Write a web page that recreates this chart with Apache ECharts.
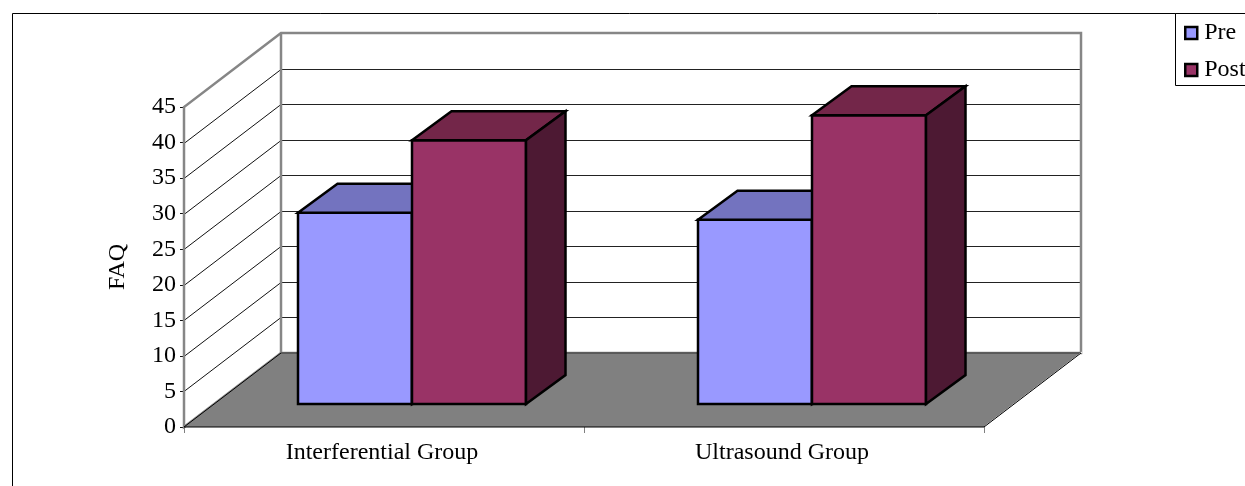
<!DOCTYPE html>
<html>
<head>
<meta charset="utf-8">
<style>html,body{margin:0;padding:0;background:#fff}#chart{width:1245px;height:486px}</style>
<script src="https://cdn.jsdelivr.net/npm/echarts@6/dist/echarts.min.js"></script>
</head>
<body>
<div id="chart"></div>
<script>
var categories = ['Interferential Group', 'Ultrasound Group'];
var preValues = [26.9, 25.9];
var postValues = [37.1, 40.6];
var yTicks = [0, 5, 10, 15, 20, 25, 30, 35, 40, 45];

// oblique offsets of the fake 3d box, in px
var wallDX = 97, wallDY = 74;
var barShiftX = 28, barShiftY = 23;
var barDepthX = 39.5, barDepthY = 29;
var barWidth = 114;
var fontName = 'Liberation Serif';

var myChart = echarts.init(document.getElementById('chart'));

function poly(points, fill, stroke, width) {
    return {type: 'polygon', shape: {points: points},
        style: {fill: fill, stroke: stroke, lineWidth: width, lineJoin: 'miter'}};
}
function line(a, b, stroke, width) {
    return {type: 'line', shape: {x1: a[0], y1: a[1], x2: b[0], y2: b[1]},
        style: {stroke: stroke, lineWidth: width}};
}

// side wall, back wall and floor
function renderWalls(params, api) {
    var a = api.coord([0, 0]), t = api.coord([0, 45]);
    var left = params.coordSys.x, right = left + params.coordSys.width;
    var y0 = a[1], y1 = t[1];
    var back = function (x, y) { return [x + wallDX, y - wallDY]; };
    var kids = [];
    kids.push(poly([[left, y0], back(left, y0), back(left, y1), [left, y1]], '#fff', null, 0));
    kids.push(poly([back(left, y0), back(right, y0), back(right, y1), back(left, y1)], '#fff', null, 0));
    yTicks.forEach(function (v) {
        if (v === 0 || v === 45) return;
        var y = Math.round(api.coord([0, v])[1]) + 0.5;
        kids.push(line([left, y], back(left, y), '#111', 1));
        kids.push(line(back(left, y), back(right, y), '#222', 1));
    });
    kids.push(poly([back(left, y1), back(right, y1), back(right, y0), back(left, y0), [left, y0], [left, y1]], 'none', '#868686', 2.5));
    kids.push(line(back(left, y1), back(left, y0), '#868686', 2.5));
    kids.push(poly([[left, y0], [right, y0], back(right, y0), back(left, y0)], '#808080', null, 0));
    kids.push(line([left, y0], back(left, y0), '#000', 1));
    kids.push(line(back(left, y0), back(right, y0), '#333', 1));
    kids.push(line([right + 1, y0 - 1], back(right + 1, y0 - 1), '#fff', 1));
    kids.push(line([right, y0], back(right, y0), '#000', 1));
    kids.push(line([left, y0], [right, y0], '#000', 1));
    return {type: 'group', children: kids};
}

function barRenderer(seriesIndex, front, top, side) {
    return function (params, api) {
        var base = api.coord([api.value(0), 0]);
        var head = api.coord([api.value(0), api.value(1)]);
        var x0 = base[0] + barShiftX + (seriesIndex === 0 ? -barWidth : 0);
        var x1 = x0 + barWidth;
        var yb = base[1] - barShiftY, yt = head[1] - barShiftY;
        return {type: 'group', children: [
            poly([[x0, yb], [x1, yb], [x1, yt], [x0, yt]], front, '#000', 2.5),
            poly([[x0, yt], [x1, yt], [x1 + barDepthX, yt - barDepthY], [x0 + barDepthX, yt - barDepthY]], top, '#000', 2.5),
            poly([[x1, yb], [x1 + barDepthX, yb - barDepthY], [x1 + barDepthX, yt - barDepthY], [x1, yt]], side, '#000', 2.5)
        ]};
    };
}
function toPoints(values) {
    return values.map(function (v, i) { return [i, v]; });
}

var option = {
    animation: false,
    backgroundColor: '#fff',
    textStyle: {fontFamily: fontName, color: '#000'},
    grid: {left: 184, right: 261, top: 107, bottom: 59},
    graphic: [
        {type: 'rect', z: -1, shape: {x: 12.5, y: 13.5, width: 1300, height: 600}, style: {fill: '#fff', stroke: '#000', lineWidth: 1}},
        {type: 'rect', z: 1, shape: {x: 1175.5, y: 13.5, width: 100, height: 72}, style: {fill: '#fff', stroke: '#000', lineWidth: 1}}
    ],
    legend: {
        data: ['Pre', 'Post'],
        orient: 'vertical',
        left: 1184,
        top: 21,
        padding: 0,
        itemWidth: 12,
        itemHeight: 12,
        itemGap: 13,
        icon: 'rect',
        itemStyle: {borderWidth: 2.5, borderColor: '#000'},
        textStyle: {fontFamily: fontName, fontSize: 24, color: '#000', padding: [2, 0, 0, 2]},
        selectedMode: false,
        z: 5
    },
    xAxis: {
        type: 'category',
        data: categories,
        axisLine: {show: false},
        axisTick: {show: true, length: 6, lineStyle: {color: '#808080', width: 1}},
        axisLabel: {color: '#000', fontFamily: fontName, fontSize: 24, margin: 14, interval: 0, padding: [0, 4, 0, 0]}
    },
    yAxis: {
        type: 'value',
        min: 0,
        max: 45,
        interval: 5,
        name: 'FAQ',
        nameLocation: 'middle',
        nameGap: 54,
        nameTextStyle: {color: '#000', fontFamily: fontName, fontSize: 24},
        axisLine: {show: true, lineStyle: {color: '#868686', width: 2.5}},
        axisTick: {show: true, length: 4, lineStyle: {color: '#111', width: 1}},
        axisLabel: {color: '#000', fontFamily: fontName, fontSize: 24, margin: 8},
        splitLine: {show: false}
    },
    series: [
        {type: 'custom', name: 'walls', silent: true, z: 1, data: [[0, 0]], renderItem: renderWalls},
        {type: 'custom', name: 'Pre', silent: true, z: 2, data: toPoints(preValues),
            itemStyle: {color: '#9999ff', borderColor: '#000', borderWidth: 2.5},
            renderItem: barRenderer(0, '#9999ff', '#7373bf', '#4d4d80')},
        {type: 'custom', name: 'Post', silent: true, z: 3, data: toPoints(postValues),
            itemStyle: {color: '#993366', borderColor: '#000', borderWidth: 2.5},
            renderItem: barRenderer(1, '#993366', '#732649', '#4d1933')}
    ]
};
myChart.setOption(option);
</script>
</body>
</html>
